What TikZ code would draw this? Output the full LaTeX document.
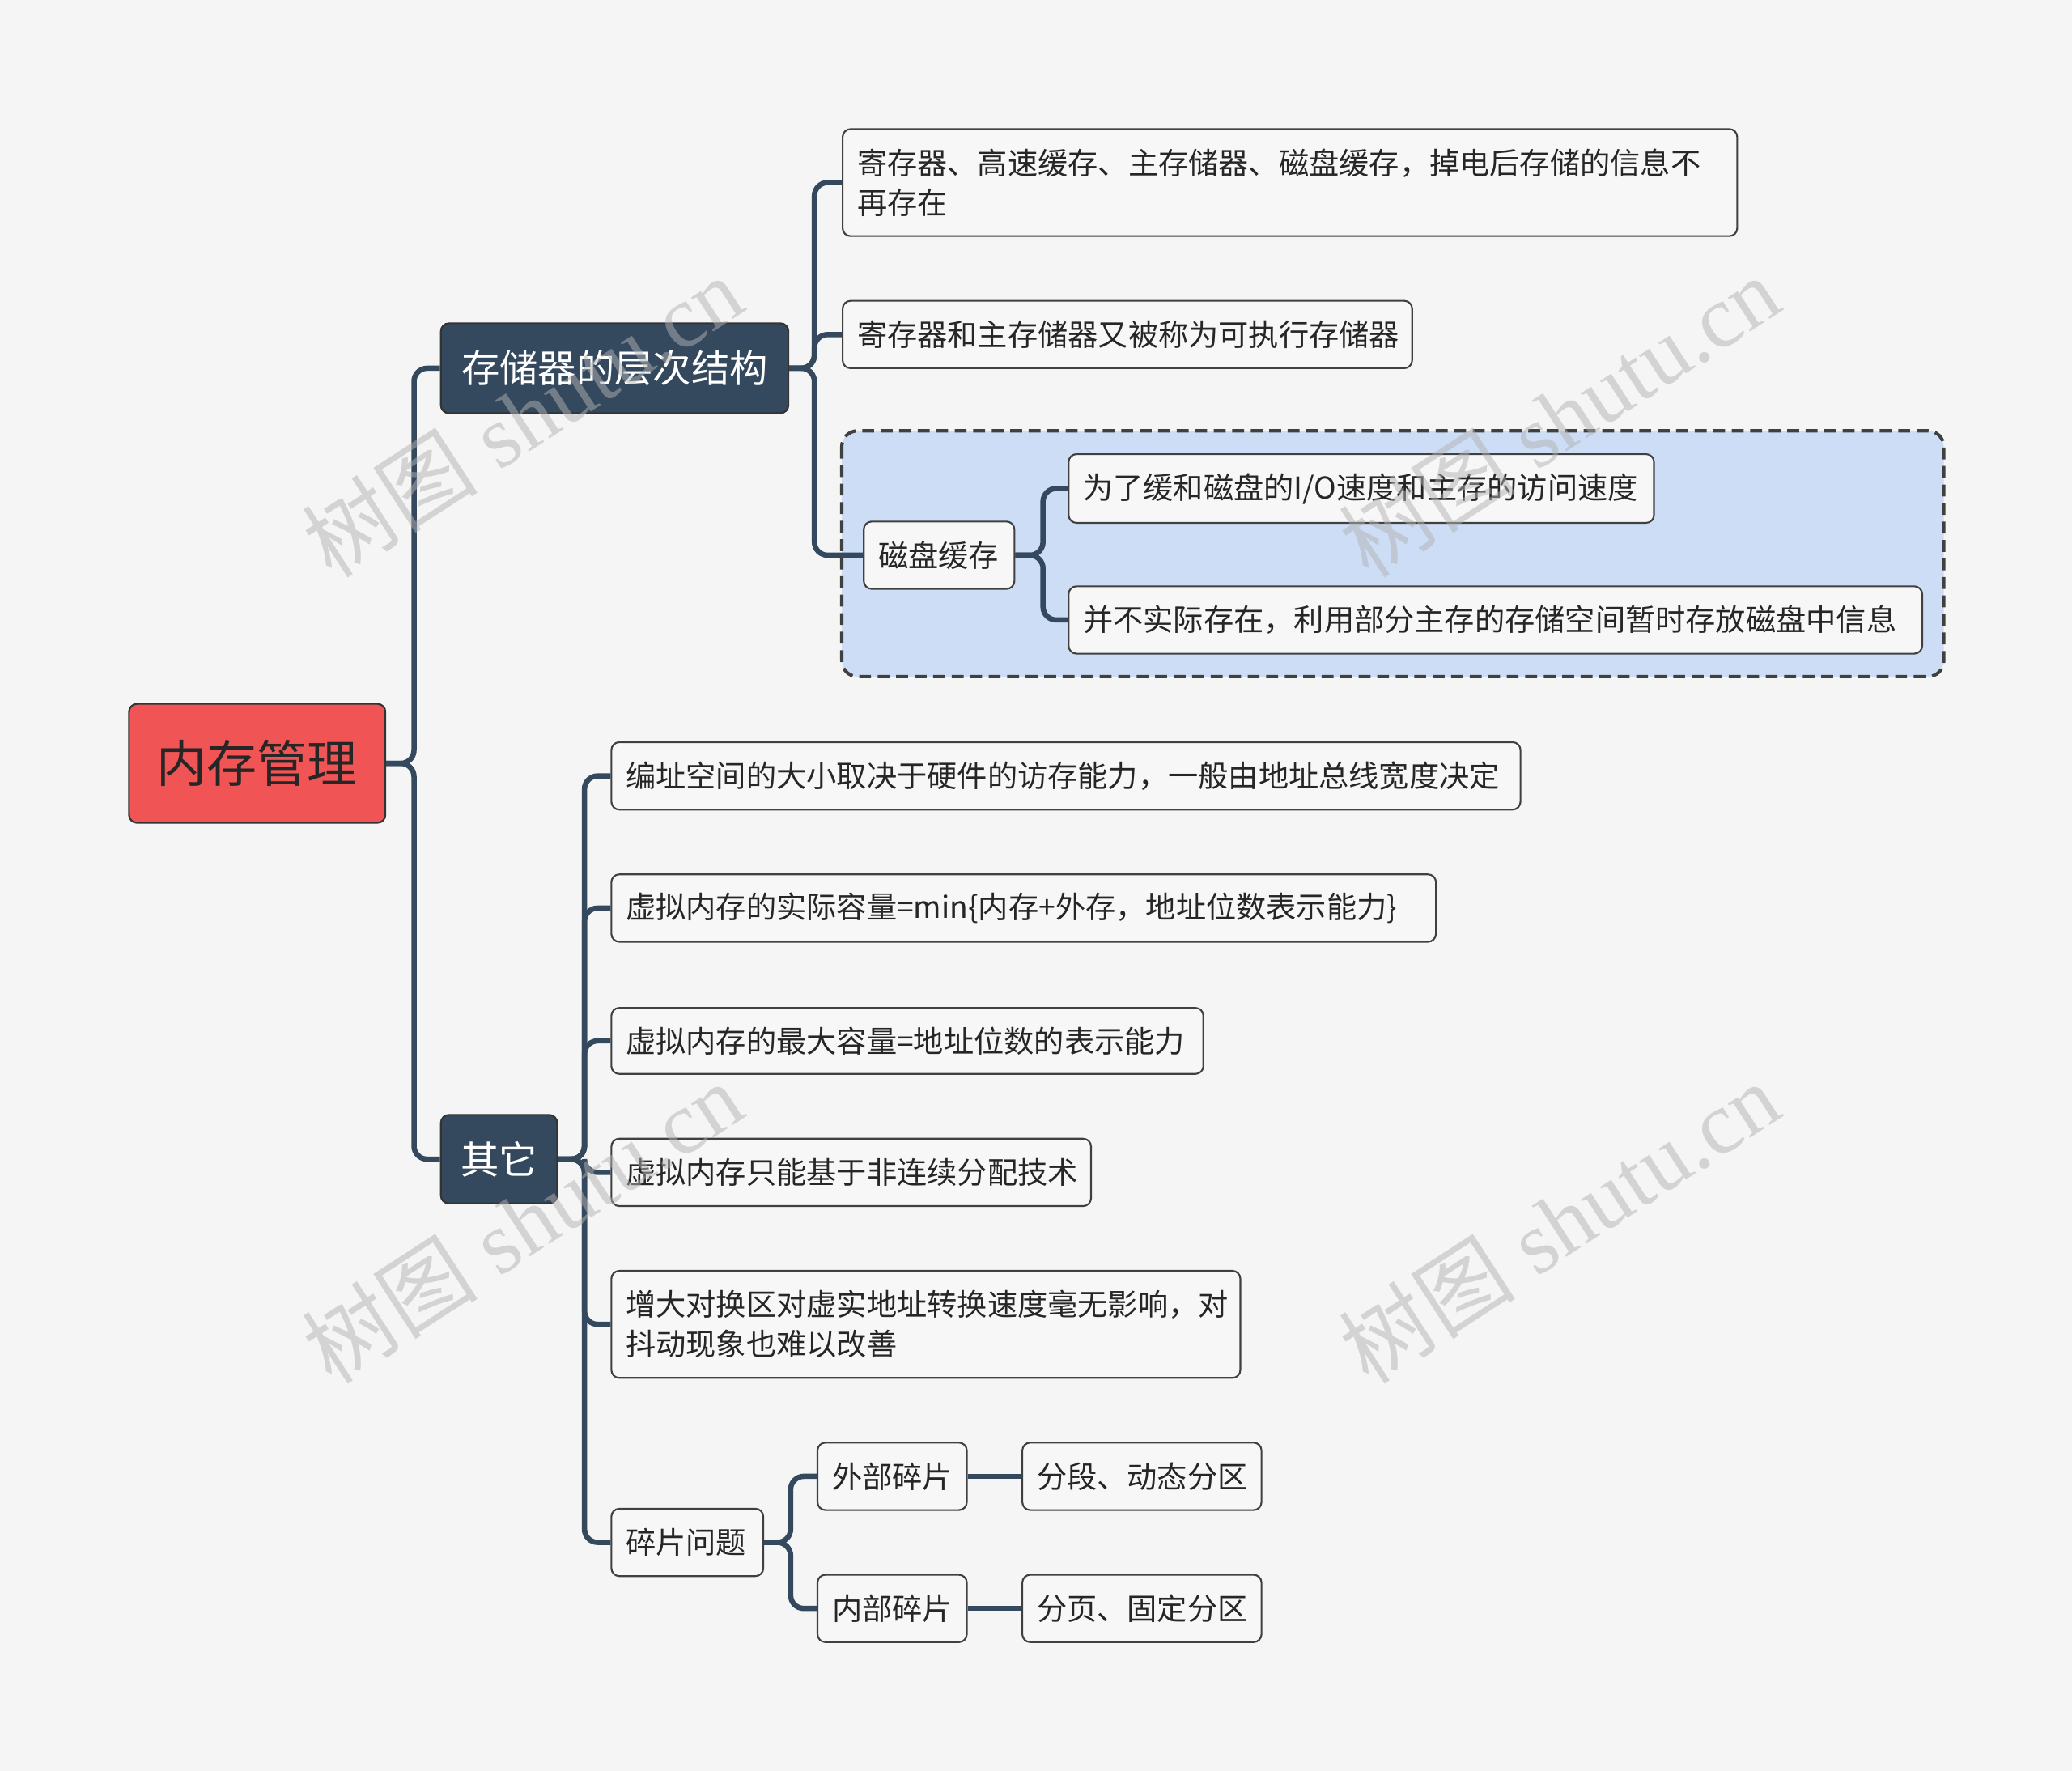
\documentclass[tikz,border=0pt]{standalone}
\usepackage{fontspec}
\setmainfont{Noto Sans CJK SC}
\newfontfamily\wmfont{Liberation Serif}
\newfontfamily\wmcjk{Noto Sans CJK SC}
\begin{document}
\begin{tikzpicture}[x=1pt,y=-1pt,
  leaf/.style={draw=black!75,line width=1.3pt,rounded corners=6pt,fill=white!97!black,
    font=\fontsize{22.8}{30}\selectfont,inner xsep=11pt,inner ysep=0pt,anchor=north west,align=left,text=black!85},
  conn/.style={draw=conncol,line width=4pt,rounded corners=10pt},
  lone/.style={draw=black!80,line width=1.3pt,rounded corners=6pt,fill=conncol,text=white,
    font=\fontsize{29}{34}\selectfont,anchor=north west,inner sep=0pt},
  wm/.style={text=black!30,opacity=0.5,rotate=33,font=\wmfont\fontsize{67}{67}\selectfont}]
\definecolor{conncol}{HTML}{34495E}
\fill[white!96!black] (0,0) rectangle (1568,1340);
\useasboundingbox (0,0) rectangle (1568,1340);
% group box
\draw[line width=2.5pt,draw=black!75,fill={rgb,255:red,204;green,221;blue,245},rounded corners=12pt,dash pattern=on 9pt off 5pt] (637,326) rectangle (1471,512);
% root
\node[draw=black!80,line width=1.3pt,rounded corners=6pt,fill={rgb,255:red,240;green,84;blue,84},anchor=north west,minimum width=194pt,minimum height=90pt,inner sep=0pt,font=\fontsize{38}{40}\selectfont,text=black!85] (root) at (97,532) {内存管理};
\node[lone,minimum width=263pt,minimum height=68pt] (A) at (333,244) {存储器的层次结构};
\node[lone,minimum width=88pt,minimum height=67pt] (B) at (333,843) {其它};
% leaves
\newcommand{\leafnode}[6]{\node[leaf,text width=#4-22pt,minimum height=#5] (#1) at (#2,#3) {#6};}
\leafnode{A1}{637}{97}{677pt}{81pt}{寄存器、高速缓存、主存储器、磁盘缓存，掉电后存储的信息不\\再存在}
\leafnode{A2}{637}{227}{431pt}{51pt}{寄存器和主存储器又被称为可执行存储器}
\leafnode{A3}{653}{394}{114pt}{51pt}{磁盘缓存}
\leafnode{A3a}{808}{343}{443pt}{52pt}{为了缓和磁盘的I/O速度和主存的访问速度}
\leafnode{A3b}{808}{443}{646pt}{51pt}{并不实际存在，利用部分主存的存储空间暂时存放磁盘中信息}
\leafnode{B1}{462}{561}{688pt}{51pt}{编址空间的大小取决于硬件的访存能力，一般由地址总线宽度决定}
\leafnode{B2}{462}{661}{624pt}{51pt}{虚拟内存的实际容量=min\{内存+外存，地址位数表示能力\}}
\leafnode{B3}{462}{762}{448pt}{50pt}{虚拟内存的最大容量=地址位数的表示能力}
\leafnode{B4}{462}{861}{363pt}{51pt}{虚拟内存只能基于非连续分配技术}
\leafnode{B5}{462}{961}{476pt}{81pt}{增大对换区对虚实地址转换速度毫无影响，对\\抖动现象也难以改善}
\leafnode{B6}{462}{1141}{115pt}{51pt}{碎片问题}
\leafnode{B6a}{618}{1091}{113pt}{51pt}{外部碎片}
\leafnode{B6b}{618}{1191}{113pt}{51pt}{内部碎片}
\leafnode{B6a1}{773}{1091}{181pt}{51pt}{分段、动态分区}
\leafnode{B6b1}{773}{1191}{181pt}{51pt}{分页、固定分区}
% connectors
\foreach \c in {A,B} \draw[conn] (root.east) -- ++(21,0) |- (\c.west);
\foreach \c in {A1,A2,A3} \draw[conn] (A.east) -- ++(19,0) |- (\c.west);
\foreach \c in {B1,B2,B3,B4,B5,B6} \draw[conn] (B.east) -- ++(20,0) |- (\c.west);
\foreach \c in {A3a,A3b} \draw[conn] (A3.east) -- ++(21,0) |- (\c.west);
\foreach \c in {B6a,B6b} \draw[conn] (B6.east) -- ++(20,0) |- (\c.west);
\draw[conn] (B6a.east) -- (B6a1.west);
\draw[conn] (B6b.east) -- (B6b1.west);
% watermarks
\node[wm] (w1) at (395,315) {{\wmcjk 树图} shutu.cn};
\node[wm] (w2) at (1180,315) {{\wmcjk 树图} shutu.cn};
\node[wm] (w3) at (395,925) {{\wmcjk 树图} shutu.cn};
\node[wm] (w4) at (1180,925) {{\wmcjk 树图} shutu.cn};
\end{tikzpicture}
\end{document}
